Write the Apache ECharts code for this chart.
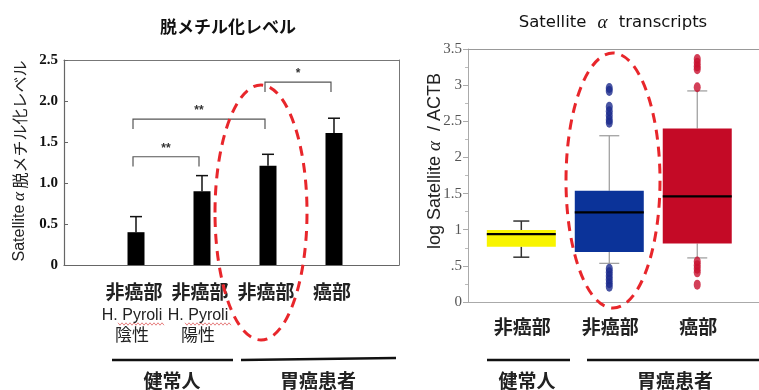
<!DOCTYPE html>
<html><head><meta charset="utf-8">
<script src="https://cdn.jsdelivr.net/npm/echarts@6/dist/echarts.min.js"></script>
<style>html,body{margin:0;padding:0;background:#fff}#c{width:759px;height:390px}</style>
</head><body><div id="c"></div>
<script>
// ---------- Left panel: 脱メチル化レベル ----------
const barPos = [1, 2, 3, 4];
const barLabels = ['非癌部', '非癌部', '非癌部', '癌部'];
const barSub1 = ['H. Pyroli', 'H. Pyroli', '', ''];
const barSub2 = ['陰性', '陽性', '', ''];
const barValues = [0.40, 0.90, 1.21, 1.61];
const barErrors = [0.19, 0.19, 0.14, 0.18];
const leftMin = 0, leftMax = 2.5, leftStep = 0.5;
// significance brackets: from, to, line level, end level, mark
const bracketFrom = [1, 1, 3];
const bracketTo = [2, 3, 4];
const bracketLevel = [1.32, 1.78, 2.23];
const bracketEnd = [1.20, 1.66, 2.11];
const bracketMark = ['**', '**', '*'];

// ---------- Right panel: Satellite α transcripts ----------
const boxPos = [1, 2, 3];
const boxLabels = ['非癌部', '非癌部', '癌部'];
const boxLow = [0.62, 0.535, 0.61];
const boxQ1 = [0.765, 0.69, 0.81];
const boxMedian = [0.94, 1.24, 1.46];
const boxQ3 = [0.995, 1.54, 2.40];
const boxHigh = [1.12, 2.30, 2.92];
const outliersBlue = [2.96, 2.92, 2.70, 2.64, 2.58, 2.52, 2.48, 0.46, 0.41, 0.36, 0.31, 0.26, 0.21];
const outliersRed = [3.36, 3.31, 3.26, 3.22, 2.97, 0.56, 0.51, 0.46, 0.41, 0.24];
const rightMin = 0, rightMax = 3.5, rightStep = 0.5;
const groupNames = ['健常人', '胃癌患者'];

const boxColors = ['#f8f400', '#0b3399', '#c40a26'];
const whiskerColors = ['#333333', '#9a9a9a', '#9a9a9a'];
const capWidths = [16, 20, 20];
const JP = '"Noto Sans CJK JP","Noto Sans",sans-serif';
const SERIF = '"Liberation Serif","DejaVu Serif",serif';
const SANS = '"Liberation Sans",Arial,sans-serif';
const DJV = '"DejaVu Sans",sans-serif';
const RED = '#e8262b';

function squiggle(x0, x1, y) {
  const pts = [];
  let k = 0;
  for (let x = x0; x <= x1; x += 2) { pts.push([x, y + (k % 2 ? 1.2 : -1.2)]); k++; }
  return { type: 'polyline', shape: { points: pts }, style: { stroke: '#e06060', lineWidth: 0.8, fill: null } };
}

const chart = echarts.init(document.getElementById('c'), null, { renderer: 'canvas' });
const option = {
  backgroundColor: '#fff',
  animation: false,
  grid: [
    { left: 64, top: 60, width: 335, height: 205 },
    { left: 468, top: 49, width: 300, height: 253 }
  ],
  xAxis: [
    { gridIndex: 0, type: 'value', min: -0.091, max: 4.985, axisLine: { onZero: false, lineStyle: { color: '#666', width: 1.2 } }, axisTick: { show: false }, axisLabel: { show: false }, splitLine: { show: false } },
    { gridIndex: 0, type: 'value', position: 'top', min: -0.091, max: 4.985, axisLine: { onZero: false, lineStyle: { color: '#777', width: 1 } }, axisTick: { show: false }, axisLabel: { show: false }, splitLine: { show: false } },
    { gridIndex: 1, type: 'value', min: 0.394, max: 3.702, axisLine: { onZero: false, lineStyle: { color: '#aaa', width: 1 } }, axisTick: { show: false }, axisLabel: { show: false }, splitLine: { show: false } },
    { gridIndex: 1, type: 'value', position: 'top', min: 0.394, max: 3.702, axisLine: { onZero: false, lineStyle: { color: '#999', width: 1 } }, axisTick: { show: false }, axisLabel: { show: false }, splitLine: { show: false } }
  ],
  yAxis: [
    { gridIndex: 0, type: 'value', min: leftMin, max: leftMax, interval: leftStep,
      axisLine: { show: true, onZero: false, lineStyle: { color: '#666', width: 1.2 } },
      axisTick: { show: true, inside: true, length: 4, lineStyle: { color: '#666' } },
      axisLabel: { fontFamily: SERIF, fontWeight: 'bold', fontSize: 15, color: '#111', margin: 6,
        formatter: v => v === 0 ? '0' : v.toFixed(1) },
      splitLine: { show: false } },
    { gridIndex: 0, type: 'value', position: 'right', min: leftMin, max: leftMax,
      axisLine: { show: true, onZero: false, lineStyle: { color: '#777', width: 1 } },
      axisTick: { show: false }, axisLabel: { show: false }, splitLine: { show: false } },
    { gridIndex: 1, type: 'value', min: rightMin, max: rightMax, interval: rightStep,
      axisLine: { show: true, onZero: false, lineStyle: { color: '#aaa', width: 1 } },
      axisTick: { show: true, length: 5, lineStyle: { color: '#aaa' } },
      minorTick: { show: true, splitNumber: 2, length: 3, lineStyle: { color: '#bbb' } },
      axisLabel: { fontFamily: SERIF, fontSize: 15, color: '#555', margin: 6, padding: [6, 0, 0, 0],
        formatter: v => v === 0 ? '0' : (v < 1 ? '.5' : String(v)) },
      splitLine: { show: false } }
  ],
  series: [
    { // bars with error bars
      type: 'custom', xAxisIndex: 0, yAxisIndex: 0, clip: false,
      data: barPos.map((x, i) => [x, barValues[i], barErrors[i]]),
      encode: { x: 0, y: 1 },
      renderItem: (params, api) => {
        const x = api.value(0), v = api.value(1), e = api.value(2);
        const p0 = api.coord([x, 0]), p1 = api.coord([x, v]), p2 = api.coord([x, v + e]);
        return { type: 'group', children: [
          { type: 'line', shape: { x1: p1[0], y1: p1[1], x2: p2[0], y2: p2[1] }, style: { stroke: '#111', lineWidth: 1.5 } },
          { type: 'line', shape: { x1: p2[0] - 6, y1: p2[1], x2: p2[0] + 6, y2: p2[1] }, style: { stroke: '#111', lineWidth: 1.5 } },
          { type: 'rect', shape: { x: p0[0] - 8.5, y: p1[1], width: 17, height: p0[1] - p1[1] }, style: { fill: '#000' } }
        ] };
      }
    },
    { // significance brackets
      type: 'custom', xAxisIndex: 0, yAxisIndex: 0, clip: false,
      data: bracketFrom.map((f, i) => [f, bracketTo[i], bracketLevel[i], bracketEnd[i]]),
      encode: { x: [0, 1], y: [2, 3] },
      renderItem: (params, api) => {
        const a = api.coord([api.value(0), api.value(2)]);
        const b = api.coord([api.value(1), api.value(2)]);
        const e = api.coord([api.value(0), api.value(3)]);
        const x1 = a[0] - 3, x2 = b[0] - 3;
        return { type: 'group', children: [
          { type: 'polyline', shape: { points: [[x1, e[1]], [x1, a[1]], [x2, a[1]], [x2, e[1]]] }, style: { stroke: '#555', lineWidth: 1.2, fill: null } },
          { type: 'text', x: (x1 + x2) / 2, y: a[1] - 2, style: { text: bracketMark[params.dataIndex], fontSize: 12, fontWeight: 'bold', fontFamily: SANS, fill: '#333', align: 'center', verticalAlign: 'bottom' } }
        ] };
      }
    },
    { // left category labels
      type: 'custom', xAxisIndex: 0, yAxisIndex: 0, clip: false, silent: true,
      data: barPos.map(x => [x, 0]),
      encode: { x: 0, y: 1 },
      renderItem: (params, api) => {
        const i = params.dataIndex;
        const p = api.coord([api.value(0), 0]);
        const ch = [
          { type: 'text', x: p[0] - 2, y: p[1] + 27, style: { text: barLabels[i], fontSize: 19, fontWeight: 'bold', fontFamily: JP, fill: '#222', align: 'center', verticalAlign: 'middle' } }
        ];
        if (barSub1[i]) ch.push({ type: 'text', x: p[0] - 4, y: p[1] + 51, style: { text: barSub1[i], fontSize: 16, fontFamily: SANS, fill: '#222', align: 'center', verticalAlign: 'middle' } });
        if (barSub2[i]) ch.push({ type: 'text', x: p[0] - 4, y: p[1] + 70, style: { text: barSub2[i], fontSize: 17, fontFamily: JP, fill: '#222', align: 'center', verticalAlign: 'middle' } });
        return { type: 'group', children: ch };
      }
    },
    { // box plots
      type: 'custom', xAxisIndex: 2, yAxisIndex: 2, clip: false,
      data: boxPos.map((x, i) => [x, boxLow[i], boxQ1[i], boxMedian[i], boxQ3[i], boxHigh[i]]),
      encode: { x: 0, y: [1, 5] },
      renderItem: (params, api) => {
        const i = params.dataIndex;
        const x = api.value(0);
        const lo = api.coord([x, api.value(1)]), q1 = api.coord([x, api.value(2)]), md = api.coord([x, api.value(3)]),
              q3 = api.coord([x, api.value(4)]), hi = api.coord([x, api.value(5)]);
        const cx = lo[0], w = 69, cw = capWidths[i] / 2, wc = whiskerColors[i], lw = i === 0 ? 1.5 : 1.2;
        return { type: 'group', children: [
          { type: 'line', shape: { x1: cx, y1: q3[1], x2: cx, y2: hi[1] }, style: { stroke: wc, lineWidth: lw } },
          { type: 'line', shape: { x1: cx, y1: q1[1], x2: cx, y2: lo[1] }, style: { stroke: wc, lineWidth: lw } },
          { type: 'line', shape: { x1: cx - cw, y1: hi[1], x2: cx + cw, y2: hi[1] }, style: { stroke: wc, lineWidth: lw } },
          { type: 'line', shape: { x1: cx - cw, y1: lo[1], x2: cx + cw, y2: lo[1] }, style: { stroke: wc, lineWidth: lw } },
          { type: 'rect', shape: { x: cx - w / 2, y: q3[1], width: w, height: q1[1] - q3[1] }, style: { fill: boxColors[i] } },
          { type: 'line', shape: { x1: cx - w / 2, y1: md[1], x2: cx + w / 2, y2: md[1] }, style: { stroke: '#000', lineWidth: 2.2 } }
        ] };
      }
    },
    { type: 'scatter', xAxisIndex: 2, yAxisIndex: 2, symbol: 'circle', symbolSize: [7, 10],
      itemStyle: { color: '#1c2a8c' }, data: outliersBlue.map(v => [boxPos[1], v]) },
    { type: 'scatter', xAxisIndex: 2, yAxisIndex: 2, symbol: 'circle', symbolSize: [7, 10],
      itemStyle: { color: '#c8102e' }, data: outliersRed.map(v => [boxPos[2], v]) },
    { // right category labels
      type: 'custom', xAxisIndex: 2, yAxisIndex: 2, clip: false, silent: true,
      data: boxPos.map(x => [x, 0]),
      encode: { x: 0, y: 1 },
      renderItem: (params, api) => {
        const p = api.coord([api.value(0), 0]);
        return { type: 'text', x: p[0] + 1, y: p[1] + 25, style: { text: boxLabels[params.dataIndex], fontSize: 19, fontWeight: 'bold', fontFamily: JP, fill: '#222', align: 'center', verticalAlign: 'middle' } };
      }
    }
  ],
  graphic: [
    { type: 'text', x: 228, y: 27, style: { text: '脱メチル化レベル', fontSize: 17, fontWeight: 'bold', fontFamily: JP, fill: '#111', align: 'center', verticalAlign: 'middle' } },
    { type: 'text', x: 613, y: 23, style: { text: 'Satellite {a|α} transcripts', fontSize: 16.5, fontFamily: DJV, fill: '#111', align: 'center', verticalAlign: 'middle',
      rich: { a: { fontStyle: 'italic', fontSize: 19, fontFamily: SERIF, padding: [0, 6, 0, 6] } } } },
    { type: 'text', x: 20, y: 161, rotation: Math.PI / 2, style: { text: '{s|Satellite} {a|α} 脱メチル化レベル', fontSize: 16, fontFamily: JP, fill: '#222', align: 'center', verticalAlign: 'middle',
      rich: { s: { fontSize: 16, fontFamily: SANS }, a: { fontStyle: 'italic', fontSize: 17, fontFamily: SERIF } } } },
    { type: 'text', x: 435, y: 161, rotation: Math.PI / 2, style: { text: 'log Satellite {a|α}  / ACTB', fontSize: 18, fontFamily: SANS, fill: '#222', align: 'center', verticalAlign: 'middle',
      rich: { a: { fontStyle: 'italic', fontSize: 19, fontFamily: SERIF } } } },
    // group underlines
    { type: 'line', shape: { x1: 112, y1: 360, x2: 233, y2: 360 }, style: { stroke: '#111', lineWidth: 2.5 } },
    { type: 'line', shape: { x1: 241, y1: 360, x2: 396, y2: 358 }, style: { stroke: '#111', lineWidth: 2.5 } },
    { type: 'line', shape: { x1: 487, y1: 360, x2: 570, y2: 360 }, style: { stroke: '#111', lineWidth: 2.5 } },
    { type: 'line', shape: { x1: 587, y1: 360, x2: 759, y2: 360 }, style: { stroke: '#111', lineWidth: 2.5 } },
    { type: 'text', x: 172, y: 381, style: { text: groupNames[0], fontSize: 19, fontWeight: 'bold', fontFamily: JP, fill: '#222', align: 'center', verticalAlign: 'middle' } },
    { type: 'text', x: 318, y: 381, style: { text: groupNames[1], fontSize: 19, fontWeight: 'bold', fontFamily: JP, fill: '#222', align: 'center', verticalAlign: 'middle' } },
    { type: 'text', x: 527, y: 381, style: { text: groupNames[0], fontSize: 19, fontWeight: 'bold', fontFamily: JP, fill: '#222', align: 'center', verticalAlign: 'middle' } },
    { type: 'text', x: 675, y: 381, style: { text: groupNames[1], fontSize: 19, fontWeight: 'bold', fontFamily: JP, fill: '#222', align: 'center', verticalAlign: 'middle' } },
    // spell-check squiggles
    squiggle(118, 165, 324),
    squiggle(185, 232, 324),
    // dashed highlight ellipses
    { type: 'ellipse', z: 100, shape: { cx: 261, cy: 212.5, rx: 46, ry: 127.5 }, style: { fill: null, stroke: RED, lineWidth: 3, lineDash: [10, 7] } },
    { type: 'ellipse', z: 100, shape: { cx: 613, cy: 180.5, rx: 47, ry: 127.5 }, style: { fill: null, stroke: RED, lineWidth: 3, lineDash: [10, 7] } }
  ]
};
chart.setOption(option);
</script>
</body></html>
